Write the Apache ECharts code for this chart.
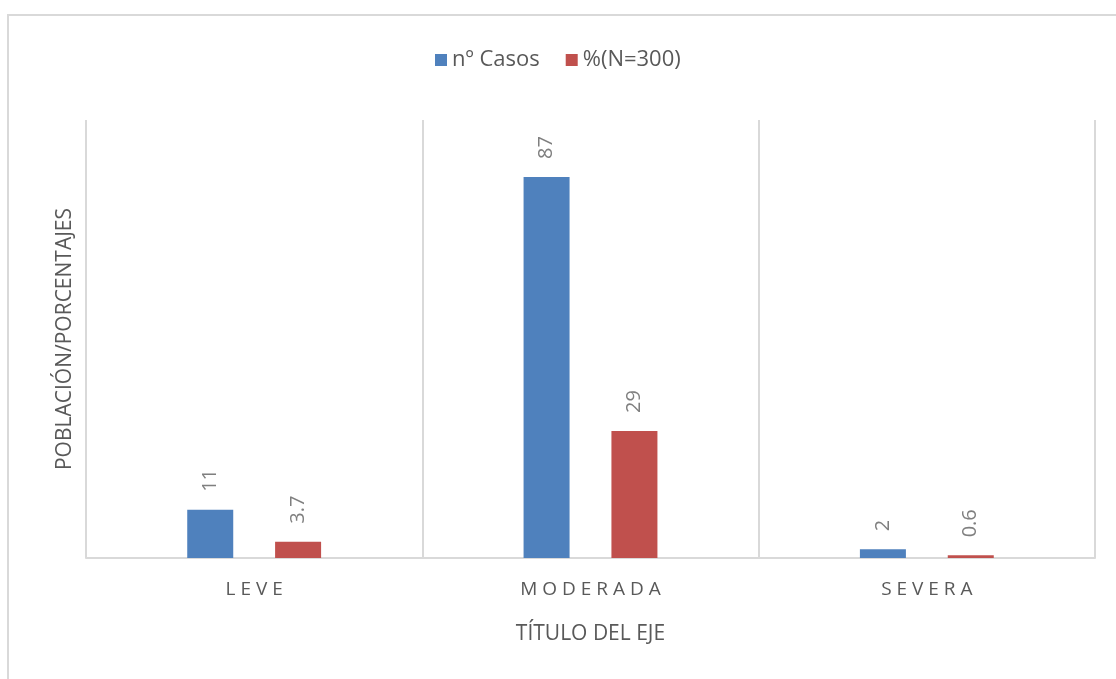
<!DOCTYPE html>
<html>
<head>
<meta charset="utf-8">
<script src="https://cdn.jsdelivr.net/npm/echarts@6/dist/echarts.min.js"></script>
<style>
  html, body { margin: 0; padding: 0; background: #fff; }
  #frame {
    position: absolute; left: 7px; top: 14px;
    width: 1120px; height: 680px;
    border: 2px solid #d9d9d9; box-sizing: border-box;
  }
  #chart { position: absolute; left: 0; top: 0; width: 1116px; height: 679px; }
</style>
</head>
<body>
<div id="frame"></div>
<div id="chart"></div>
<script>
const categories = ['LEVE', 'MODERADA', 'SEVERA']
const casos = [11, 87, 2]
const porcentaje = [3.7, 29, 0.6]

const chart = echarts.init(document.getElementById('chart'))

// etiquetas de valor giradas encima de cada barra
const labelStyle = {
  show: true,
  position: 'top',
  rotate: 90,
  align: 'left',
  verticalAlign: 'middle',
  distance: 18,
  color: '#7f7f7f',
  fontSize: 20,
  fontFamily: 'Open Sans'
}

chart.setOption({
  textStyle: { fontFamily: 'Open Sans' },
  legend: {
    top: 44,
    left: 430,
    itemWidth: 12,
    itemHeight: 12,
    itemGap: 26,
    icon: 'rect',
    textStyle: { color: '#595959', fontSize: 22, fontFamily: 'Open Sans' },
    data: ['nº Casos', '%(N=300)']
  },
  grid: {
    left: 86,
    right: 21,
    top: 120,
    bottom: 121
  },
  xAxis: {
    type: 'category',
    data: categories,
    name: 'TÍTULO DEL EJE',
    nameLocation: 'middle',
    nameGap: 66,
    nameTextStyle: { color: '#595959', fontSize: 21 },
    axisLine: { lineStyle: { color: '#d9d9d9', width: 2 } },
    axisTick: { show: false },
    axisLabel: {
      color: '#595959',
      fontSize: 19,
      margin: 22,
      formatter: v => v.split('').join(' ')
    },
    splitLine: { show: true, interval: 0, lineStyle: { color: '#d9d9d9', width: 2 } }
  },
  yAxis: {
    type: 'value',
    min: 0,
    max: 100,
    name: 'POBLACIÓN/PORCENTAJES',
    nameLocation: 'middle',
    nameGap: 10,
    nameTextStyle: { color: '#595959', fontSize: 21 },
    axisLine: { show: false },
    axisTick: { show: false },
    axisLabel: { show: false },
    splitLine: { show: false }
  },
  series: [{
    name: 'nº Casos',
    type: 'bar',
    data: casos,
    barWidth: 46,
    barGap: '91%',
    itemStyle: { color: '#4f81bd' },
    label: labelStyle
  }, {
    name: '%(N=300)',
    type: 'bar',
    data: porcentaje,
    barWidth: 46,
    barGap: '91%',
    itemStyle: { color: '#c0504d' },
    label: labelStyle
  }]
})
</script>
</body>
</html>
